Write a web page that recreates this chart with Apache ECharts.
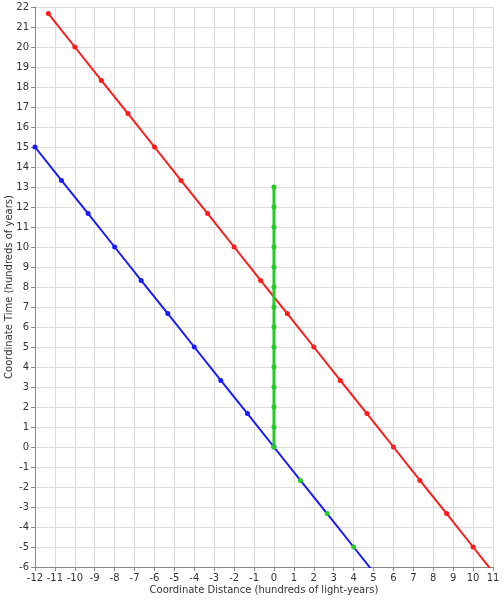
<!DOCTYPE html>
<html>
<head>
<meta charset="utf-8">
<script src="https://cdn.jsdelivr.net/npm/echarts@6/dist/echarts.min.js"></script>
<style>
  html, body { margin: 0; padding: 0; background: #fff; }
  #chart { width: 504px; height: 600px; }
</style>
</head>
<body>
<div id="chart"></div>
<script>
// red worldline points
const redX = [-11.33, -10, -8.67, -7.33, -6, -4.67, -3.33, -2, -0.67, 0.67, 2, 3.33, 4.67, 6, 7.33, 8.67, 10, 11.33];
const redY = [21.67, 20, 18.33, 16.67, 15, 13.33, 11.67, 10, 8.33, 6.67, 5, 3.33, 1.67, 0, -1.67, -3.33, -5, -6.67];
// blue worldline points
const blueX = [-12, -10.67, -9.33, -8, -6.67, -5.33, -4, -2.67, -1.33, 0, 1.33, 2.67, 4, 5.33];
const blueY = [15, 13.33, 11.67, 10, 8.33, 6.67, 5, 3.33, 1.67, 0, -1.67, -3.33, -5, -6.67];
// markers on the blue line drawn in green (x > 0)
const blueMarkColor = ['b', 'b', 'b', 'b', 'b', 'b', 'b', 'b', 'b', 'b', 'g', 'g', 'g', 'b'];
// green vertical worldline
const greenX = [0, 0, 0, 0, 0, 0, 0, 0, 0, 0, 0, 0, 0, 0];
const greenY = [0, 1, 2, 3, 4, 5, 6, 7, 8, 9, 10, 11, 12, 13];

const RED = '#ff1a1a', BLUE = '#1a1aff', GREEN = '#22cc22';

const chart = echarts.init(document.getElementById('chart'));
const txt = { fontFamily: 'DejaVu Sans', fontSize: 10, color: '#333' };

const option = {
  animation: false,
  grid: { left: 35, right: 11, top: 7, bottom: 33, containLabel: false, outerBoundsMode: 'none' },
  xAxis: {
    type: 'value', min: -12, max: 11, interval: 1,
    name: 'Coordinate Distance (hundreds of light-years)',
    nameLocation: 'middle', nameGap: 18, nameMoveOverlap: false,
    nameTextStyle: txt,
    axisLine: { show: true, onZero: false, lineStyle: { color: '#888' } },
    axisTick: { show: true, length: 4, lineStyle: { color: '#888' } },
    axisLabel: Object.assign({ margin: 6, hideOverlap: false }, txt),
    splitLine: { show: true, lineStyle: { color: '#dcdcdc' } }
  },
  yAxis: {
    type: 'value', min: -6, max: 22, interval: 1,
    name: 'Coordinate Time (hundreds of years)',
    nameLocation: 'middle', nameGap: 21, nameMoveOverlap: false,
    nameTextStyle: txt,
    axisLine: { show: true, onZero: false, lineStyle: { color: '#888' } },
    axisTick: { show: true, length: 4, lineStyle: { color: '#888' } },
    axisLabel: Object.assign({ margin: 6, hideOverlap: false }, txt),
    splitLine: { show: true, lineStyle: { color: '#dcdcdc' } }
  },
  series: [
    {
      type: 'line', clip: true,
      data: redX.map((x, i) => [x, redY[i]]),
      lineStyle: { color: RED, width: 2 },
      itemStyle: { color: RED },
      symbol: 'circle', symbolSize: 5
    },
    {
      type: 'line', clip: true,
      data: blueX.map((x, i) => ({
        value: [x, blueY[i]],
        itemStyle: { color: blueMarkColor[i] === 'g' ? GREEN : BLUE }
      })),
      lineStyle: { color: BLUE, width: 2 },
      itemStyle: { color: BLUE },
      symbol: 'circle', symbolSize: 5
    },
    {
      type: 'line', clip: true,
      data: greenX.map((x, i) => [x, greenY[i]]),
      lineStyle: { color: GREEN, width: 3 },
      itemStyle: { color: GREEN },
      symbol: 'circle', symbolSize: 5
    }
  ]
};
chart.setOption(option);
</script>
</body>
</html>
